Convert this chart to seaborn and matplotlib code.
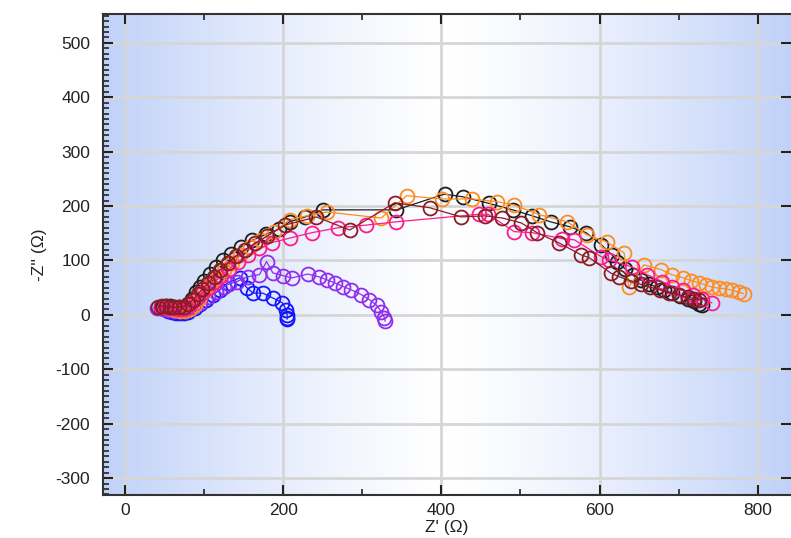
import numpy as np
import pandas as pd
import seaborn as sns
import matplotlib.pyplot as plt
from matplotlib.ticker import MultipleLocator

#########################
# DATA (Z' , -Z'')
blue_x = [45, 50, 55, 60, 65, 70, 75, 80, 88, 95, 103, 111, 120, 130, 145, 154, 162, 174, 187, 199, 204, 205, 205, 205]
blue_y = [12, 10, 8, 6, 4, 3, 3, 5, 12, 20, 28, 37, 46, 59, 68, 50, 40, 40, 31, 22, 9, 0, -5, -8]

purple_x = [40, 45, 50, 55, 62, 70, 78, 86, 95, 105, 115, 125, 132, 141, 155, 170, 179, 187, 200, 211,
            231, 245, 256, 265, 276, 286, 299, 309, 318, 324, 328, 329]
purple_y = [13, 12, 10, 9, 8, 8, 10, 15, 22, 32, 42, 52, 57, 61, 70, 74, 98, 77, 72, 68,
            75, 70, 64, 59, 52, 46, 37, 28, 18, 6, -5, -12]

black_x = [48, 52, 57, 62, 68, 74, 80, 85, 90, 95, 100, 108, 115, 124, 134, 147, 161, 178, 195, 208,
           228, 250, 343, 404, 427, 460, 490, 515, 538, 562, 583, 602, 616, 622, 632, 642, 652, 662,
           672, 682, 692, 702, 712, 720, 726, 730]
black_y = [15, 16, 16, 15, 14, 15, 20, 30, 42, 52, 62, 75, 88, 100, 112, 125, 137, 148, 158, 171,
           180, 193, 193, 222, 217, 205, 193, 182, 171, 162, 151, 129, 110, 97, 85, 73, 64, 57,
           51, 45, 40, 35, 30, 25, 20, 18]

orange_x = [50, 55, 60, 65, 70, 76, 82, 88, 94, 100, 108, 116, 125, 135, 146, 158, 172, 188, 208, 230,
            255, 324, 356, 401, 439, 470, 492, 524, 559, 584, 609, 631, 637, 656, 678, 691, 706, 716,
            726, 734, 742, 751, 760, 768, 776, 782]
orange_y = [14, 13, 11, 9, 8, 8, 10, 18, 30, 42, 55, 68, 82, 96, 110, 124, 138, 152, 175, 182,
            189, 178, 219, 213, 213, 208, 202, 184, 171, 147, 134, 114, 51, 92, 83, 74, 68, 63,
            59, 55, 51, 49, 48, 45, 42, 39]

pink_x = [45, 50, 55, 60, 66, 72, 78, 84, 90, 97, 105, 113, 122, 132, 143, 156, 170, 186, 208, 236,
          269, 305, 343, 448, 459, 492, 515, 553, 568, 602, 612, 641, 660, 679, 692, 705, 718, 730, 742]
pink_y = [14, 14, 13, 12, 11, 11, 13, 20, 30, 40, 50, 60, 72, 85, 98, 110, 122, 133, 141, 151,
          160, 165, 171, 185, 185, 153, 151, 140, 138, 107, 101, 88, 74, 61, 52, 45, 37, 29, 22]

darkred_x = [42, 47, 52, 57, 62, 68, 74, 80, 86, 92, 98, 105, 112, 120, 130, 140, 152, 165, 180, 202,
             242, 284, 341, 385, 425, 455, 477, 501, 521, 549, 577, 587, 614, 625, 640, 652, 664, 676,
             688, 700, 712, 720, 726]
darkred_y = [15, 16, 16, 15, 14, 14, 15, 20, 28, 38, 48, 58, 70, 82, 95, 108, 120, 132, 145, 165,
             180, 156, 206, 197, 180, 182, 178, 169, 151, 132, 110, 105, 77, 70, 62, 56, 51, 46,
             41, 37, 32, 30, 28]

series = [
    (blue_x, blue_y, '#1414ff'),
    (purple_x, purple_y, '#8f2df0'),
    (black_x, black_y, '#1e1e1e'),
    (orange_x, orange_y, '#ff8c1e'),
    (pink_x, pink_y, '#ff1a8c'),
    (darkred_x, darkred_y, '#8c1c24'),
]

xmin, xmax = -28, 842
ymin, ymax = -331, 553

sns.set_style('ticks')
plt.rcParams['font.family'] = ['Liberation Sans', 'DejaVu Sans']
plt.rcParams['axes.unicode_minus'] = False

fig = plt.figure(figsize=(7.91, 5.38), dpi=100)
ax = fig.add_axes([0.130, 0.080, 0.870, 0.894])

# background: blue at the edges, white in the middle
t = np.linspace(-1, 1, 400)
w = np.clip(np.abs(t), 0, 1) ** 1.3
edge = np.array([192, 209, 248]) / 255
row = (1 - w)[:, None] * np.ones(3) + w[:, None] * edge
ax.imshow(row[None, :, :], extent=[xmin, xmax, ymin, ymax], aspect='auto', zorder=0)

for sx, sy, col in series:
    df = pd.DataFrame({'x': sx, 'y': sy})
    sns.lineplot(data=df, x='x', y='y', sort=False, estimator=None, ax=ax,
                 color=col, linewidth=0.9, marker='o', markersize=10,
                 markerfacecolor='none', markeredgecolor=col, markeredgewidth=1.3,
                 zorder=3)

ax.set_xlim(xmin, xmax)
ax.set_ylim(ymin, ymax)
ax.xaxis.set_major_locator(MultipleLocator(200))
ax.xaxis.set_minor_locator(MultipleLocator(100))
ax.yaxis.set_major_locator(MultipleLocator(100))
ax.yaxis.set_minor_locator(MultipleLocator(10))

ax.grid(True, which='major', color='#d6d6d6', linewidth=2)
ax.set_axisbelow(True)

ax.tick_params(which='both', direction='in', top=True, right=True, colors='#222222',
               labelsize=12.5, labelcolor='#222222')
ax.tick_params(which='major', length=7, width=1.5)
ax.tick_params(which='minor', length=4, width=1.2)
ax.tick_params(axis='y', which='minor', right=False)
ax.tick_params(axis='y', which='major', pad=9)
ax.tick_params(axis='x', which='major', pad=6)

for s in ['left', 'bottom', 'top']:
    ax.spines[s].set_color('#333333')
    ax.spines[s].set_linewidth(1.5)
ax.spines['right'].set_visible(False)

ax.set_xlabel("Z' (\u03a9)", fontsize=12.5, color='#222222', labelpad=1)
ax.set_ylabel("-Z'' (\u03a9)", fontsize=12.5, color='#222222', labelpad=6)

fig.savefig('out.png', dpi=100)
